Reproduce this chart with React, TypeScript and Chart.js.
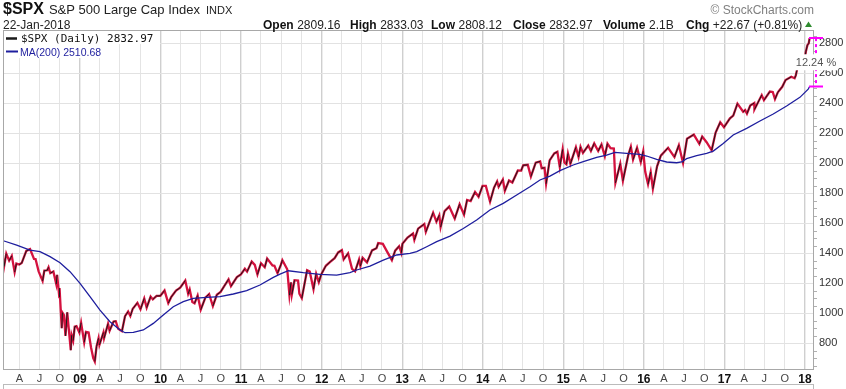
import React, { useEffect, useRef } from "react";
import { Chart, registerables } from "chart.js";
Chart.register(...registerables);

// ---------- data ----------
const priceDates = [
  "2008-01-16","2008-01-22","2008-02-01","2008-02-14","2008-02-26","2008-03-10","2008-03-18","2008-03-31","2008-04-11","2008-05-02","2008-05-19","2008-06-06","2008-06-13","2008-06-27","2008-07-15","2008-07-23","2008-08-05","2008-08-11","2008-08-19","2008-09-02","2008-09-15","2008-09-19","2008-09-29","2008-09-30","2008-10-10","2008-10-13","2008-10-20","2008-10-27","2008-11-04","2008-11-20","2008-11-24","2008-12-01","2008-12-08","2008-12-16","2008-12-29",
  "2009-01-06","2009-01-20","2009-01-28","2009-02-09","2009-02-20","2009-03-02","2009-03-09","2009-03-17","2009-03-26","2009-03-30","2009-04-17","2009-04-20","2009-05-08","2009-05-15","2009-06-02","2009-06-12","2009-06-23","2009-07-10","2009-07-24","2009-08-07","2009-08-17","2009-08-28","2009-09-18","2009-10-02","2009-10-19","2009-10-30","2009-11-17","2009-11-27","2009-12-14","2009-12-31",
  "2010-01-19","2010-02-05","2010-02-18","2010-03-12","2010-03-31","2010-04-23","2010-05-06","2010-05-13","2010-05-25","2010-06-04","2010-06-18","2010-07-02","2010-07-23","2010-08-09","2010-08-26","2010-09-13","2010-09-30","2010-10-15","2010-11-05","2010-11-16","2010-12-13","2010-12-31",
  "2011-01-18","2011-01-28","2011-02-18","2011-03-04","2011-03-16","2011-04-01","2011-04-18","2011-04-29","2011-05-23","2011-06-01","2011-06-15","2011-06-30","2011-07-07","2011-07-29","2011-08-08","2011-08-15","2011-08-19","2011-08-31","2011-09-16","2011-09-22","2011-10-03","2011-10-27","2011-11-08","2011-11-25","2011-12-07","2011-12-19","2011-12-30",
  "2012-01-20","2012-02-10","2012-02-29","2012-03-16","2012-04-02","2012-04-10","2012-04-30","2012-05-18","2012-06-01","2012-06-19","2012-06-25","2012-07-05","2012-07-25","2012-08-17","2012-09-06","2012-09-14","2012-10-05","2012-10-23","2012-11-15","2012-11-30","2012-12-18","2012-12-28",
  "2013-01-02","2013-01-25","2013-02-19","2013-02-25","2013-03-14","2013-04-11","2013-04-18","2013-05-21","2013-06-05","2013-06-18","2013-06-24","2013-07-12","2013-08-02","2013-08-27","2013-09-18","2013-10-08","2013-10-22","2013-11-07","2013-11-27","2013-12-13","2013-12-31",
  "2014-01-15","2014-02-03","2014-02-21","2014-03-07","2014-03-14","2014-04-02","2014-04-11","2014-04-30","2014-05-15","2014-06-09","2014-06-24","2014-07-03","2014-07-24","2014-08-07","2014-08-29","2014-09-18","2014-09-25","2014-10-08","2014-10-15","2014-10-31","2014-11-21","2014-12-05","2014-12-16","2014-12-29",
  "2015-01-06","2015-01-15","2015-01-22","2015-02-02","2015-02-27","2015-03-11","2015-03-20","2015-03-31","2015-04-24","2015-05-06","2015-05-21","2015-06-08","2015-06-23","2015-07-08","2015-07-20","2015-08-03","2015-08-18","2015-08-25","2015-09-16","2015-09-28","2015-10-22","2015-11-03","2015-11-13","2015-12-01","2015-12-18","2015-12-29",
  "2016-01-07","2016-01-20","2016-02-01","2016-02-11","2016-03-01","2016-03-18","2016-04-20","2016-05-19","2016-06-08","2016-06-27","2016-07-15","2016-08-15","2016-09-09","2016-09-22","2016-10-12","2016-11-04","2016-11-22","2016-12-13","2016-12-30",
  "2017-01-26","2017-02-10","2017-03-01","2017-03-27","2017-04-05","2017-04-13","2017-04-28","2017-05-16","2017-05-17","2017-06-19","2017-06-29","2017-07-26","2017-08-08","2017-08-18","2017-08-31","2017-09-20","2017-10-05","2017-10-31","2017-11-15","2017-11-20","2017-11-30","2017-12-18","2017-12-29",
  "2018-01-05","2018-01-12","2018-01-18","2018-01-22"
];
const priceValues = [
  1373,1310,1396,1349,1381,1273,1330,1323,1333,1414,1426,1361,1360,1278,1214,1283,1285,1305,1266,1277,1193,1255,1106,1166,899,1003,986,848,1005,752,852,816,909,913,870,
  935,805,874,870,770,700,677,778,832,788,870,832,929,882,944,946,895,879,979,1010,980,1029,1068,1025,1097,1036,1110,1091,1114,1115,
  1150,1066,1106,1150,1169,1217,1128,1157,1074,1065,1117,1022,1103,1127,1047,1122,1141,1176,1225,1179,1240,1258,
  1295,1276,1343,1321,1257,1332,1305,1364,1317,1315,1266,1321,1353,1292,1119,1204,1124,1219,1216,1129,1099,1285,1276,1159,1261,1206,1258,
  1315,1343,1366,1404,1419,1358,1398,1295,1278,1357,1314,1368,1338,1418,1432,1466,1461,1413,1353,1416,1446,1402,
  1462,1503,1530,1488,1563,1593,1541,1669,1609,1652,1573,1680,1710,1630,1725,1656,1754,1747,1807,1775,1848,
  1848,1742,1836,1878,1841,1890,1815,1884,1870,1951,1950,1985,1988,1910,2003,2011,1966,1968,1862,2018,2064,2075,1973,2091,
  2003,1992,2063,1995,2105,2040,2108,2068,2117,2080,2131,2080,2124,2046,2129,2099,2097,1868,1996,1882,2052,2109,2023,2102,2006,2078,
  1943,1859,1940,1829,1978,2049,2102,2040,2119,2001,2162,2190,2128,2177,2139,2085,2203,2272,2239,
  2298,2316,2396,2342,2353,2329,2384,2400,2357,2453,2419,2477,2474,2426,2472,2508,2553,2575,2565,2582,2648,2690,2674,
  2743,2786,2798,2832.97
];

const maYears = [
  2008.048,2008.214,2008.379,2008.503,2008.628,2008.752,2008.876,2009.0,2009.124,2009.248,2009.372,2009.497,2009.559,2009.662,2009.786,2009.910,
  2010.034,2010.158,2010.282,2010.406,2010.573,2010.738,2010.903,2011.069,2011.234,2011.400,2011.483,2011.586,2011.772,2011.979,
  2012.186,2012.351,2012.435,2012.600,2012.765,2012.931,2013.096,2013.180,2013.304,2013.428,2013.593,2013.758,2013.924,
  2014.089,2014.254,2014.421,2014.586,2014.710,2014.834,2014.958,2015.123,2015.248,2015.414,2015.538,2015.641,2015.786,2015.951,
  2016.035,2016.159,2016.283,2016.407,2016.469,2016.531,2016.655,2016.779,2016.861,2016.985,2017.109,2017.276,2017.441,2017.606,
  2017.772,2017.937,2018.040,2018.058
];
const maValues = [
  1482,1453,1420,1409,1376,1336,1276,1198,1109,1020,942,887,869,871,887,931,
  987,1042,1076,1098,1104,1109,1127,1149,1187,1238,1260,1282,1269,1258,
  1253,1269,1287,1313,1353,1387,1398,1409,1442,1476,1513,1564,1620,
  1687,1731,1787,1842,1887,1913,1949,1987,2009,2038,2053,2071,2064,2058,
  2047,2024,2007,2002,2007,2029,2049,2064,2080,2131,2187,2231,2280,2327,
  2380,2438,2493,2510.68
];

const xTickDates = [
  "2008-04-01","2008-07-01","2008-10-01","2009-01-01","2009-04-01","2009-07-01","2009-10-01","2010-01-01",
  "2010-04-01","2010-07-01","2010-10-01","2011-01-01","2011-04-01","2011-07-01","2011-10-01","2012-01-01",
  "2012-04-01","2012-07-01","2012-10-01","2013-01-01","2013-04-01","2013-07-01","2013-10-01","2014-01-01",
  "2014-04-01","2014-07-01","2014-10-01","2015-01-01","2015-04-01","2015-07-01","2015-10-01","2016-01-01",
  "2016-04-01","2016-07-01","2016-10-01","2017-01-01","2017-04-01","2017-07-01","2017-10-01","2018-01-01"
];
const xTickLabels = [
  "A","J","O","09","A","J","O","10","A","J","O","11","A","J","O","12","A","J","O","13",
  "A","J","O","14","A","J","O","15","A","J","O","16","A","J","O","17","A","J","O","18"
];
const yTicks = [800, 1000, 1200, 1400, 1600, 1800, 2000, 2200, 2400, 2600, 2800];

const lastClose = 2832.97;
const lastMA = 2510.68;
const pctLabel = "12.24 %";

const headerStats = [
  { label: "Open", value: "2809.16" },
  { label: "High", value: "2833.03" },
  { label: "Low", value: "2808.12" },
  { label: "Close", value: "2832.97" },
  { label: "Volume", value: "2.1B" },
  { label: "Chg", value: "+22.67 (+0.81%)" },
];
const headerStatX = [263, 350, 431, 513, 603, 686];

// ---------- helpers ----------
const FONT = '"Liberation Sans", Arial, sans-serif';
const RED = "#d4123f";
const BLACK = "#1a1a1a";
const BLUE = "#1e1e9e";

function toYear(d: string): number {
  const [y, m, dd] = d.split("-").map(Number);
  const s = Date.UTC(y, 0, 1);
  const e = Date.UTC(y + 1, 0, 1);
  return y + (Date.UTC(y, m - 1, dd) - s) / (e - s);
}
const isYearTick = (i: number) => (xTickLabels[i] || "").length === 2;

const decorPlugin = {
  id: "decor",
  afterDraw(chart: any) {
    const { ctx, chartArea: a, scales } = chart;
    const ys = scales.y;
    ctx.save();

    // plot border
    ctx.strokeStyle = "#a8a8a8";
    ctx.lineWidth = 1;
    ctx.strokeRect(a.left + 0.5, a.top + 0.5, a.right - a.left - 1, a.bottom - a.top);

    // minor ticks on right axis
    ctx.strokeStyle = "#b0b0b0";
    for (let v = 650; v <= 2850; v += 50) {
      if (v % 200 === 0) continue;
      const y = Math.round(ys.getPixelForValue(v)) + 0.5;
      ctx.beginPath();
      ctx.moveTo(a.right, y);
      ctx.lineTo(a.right + 3, y);
      ctx.stroke();
    }

    // lower panel edge
    ctx.strokeStyle = "#bbbbbb";
    ctx.beginPath();
    ctx.moveTo(a.left, 384.5);
    ctx.lineTo(a.right, 384.5);
    ctx.moveTo(a.left + 0.5, 384.5);
    ctx.lineTo(a.left + 0.5, 389);
    ctx.moveTo(a.right - 0.5, 384.5);
    ctx.lineTo(a.right - 0.5, 389);
    ctx.stroke();

    // legend
    ctx.fillStyle = "#ffffff";
    ctx.fillRect(a.left + 1, a.top + 1, 156, 13);
    ctx.fillRect(a.left + 1, a.top + 14, 100, 14);
    ctx.strokeStyle = BLACK;
    ctx.lineWidth = 2.5;
    ctx.beginPath();
    ctx.moveTo(6, 38.5);
    ctx.lineTo(17, 38.5);
    ctx.stroke();
    ctx.fillStyle = "#111";
    ctx.font = '11px "DejaVu Sans Mono", monospace';
    ctx.textBaseline = "alphabetic";
    ctx.textAlign = "left";
    ctx.fillText("$SPX (Daily) 2832.97", 21, 42);
    ctx.strokeStyle = BLUE;
    ctx.lineWidth = 2;
    ctx.beginPath();
    ctx.moveTo(6, 51.5);
    ctx.lineTo(18, 51.5);
    ctx.stroke();
    ctx.fillStyle = BLUE;
    ctx.font = "10.5px " + FONT;
    ctx.fillText("MA(200) 2510.68", 20, 55.5);

    // percentage bracket
    const bx = a.right + 2;
    const yTop = ys.getPixelForValue(lastClose);
    const yBot = ys.getPixelForValue(lastMA);
    ctx.strokeStyle = "#ff00ff";
    ctx.lineWidth = 2;
    ctx.setLineDash([3, 3]);
    ctx.beginPath();
    ctx.moveTo(bx, yTop);
    ctx.lineTo(bx, yBot);
    ctx.stroke();
    ctx.setLineDash([]);
    ctx.beginPath();
    ctx.moveTo(bx - 7, yTop);
    ctx.lineTo(bx + 7, yTop);
    ctx.moveTo(bx - 7, yBot);
    ctx.lineTo(bx + 7, yBot);
    ctx.stroke();
    const midY = (yTop + yBot) / 2;
    ctx.font = "11px " + FONT;
    const tw = ctx.measureText(pctLabel).width;
    ctx.fillStyle = "#ffffff";
    ctx.fillRect(bx - tw / 2 - 2, midY - 8, tw + 4, 16);
    ctx.fillStyle = "#555";
    ctx.textAlign = "center";
    ctx.textBaseline = "middle";
    ctx.fillText(pctLabel, bx, midY + 0.5);

    // header
    ctx.textAlign = "left";
    ctx.textBaseline = "alphabetic";
    ctx.fillStyle = "#111";
    ctx.font = "bold 16px " + FONT;
    ctx.fillText("$SPX", 3, 14);
    let x = 3 + ctx.measureText("$SPX").width + 5;
    ctx.font = "13px " + FONT;
    ctx.fillStyle = "#222";
    ctx.fillText("S&P 500 Large Cap Index", x, 14);
    x += ctx.measureText("S&P 500 Large Cap Index").width + 6;
    ctx.font = "11px " + FONT;
    ctx.fillText("INDX", x, 14);
    ctx.font = "12px " + FONT;
    ctx.fillText("22-Jan-2018", 3, 28.5);

    headerStats.forEach((s, i) => {
      let hx = headerStatX[i];
      ctx.font = "bold 12px " + FONT;
      ctx.fillStyle = "#111";
      ctx.fillText(s.label, hx, 28.5);
      hx += ctx.measureText(s.label).width + 3.5;
      ctx.font = "12px " + FONT;
      ctx.fillStyle = "#222";
      ctx.fillText(s.value, hx, 28.5);
    });
    // up triangle
    ctx.fillStyle = "#2e8b2e";
    ctx.beginPath();
    ctx.moveTo(805, 27);
    ctx.lineTo(812, 27);
    ctx.lineTo(808.5, 21.5);
    ctx.closePath();
    ctx.fill();

    ctx.font = "12px " + FONT;
    ctx.fillStyle = "#808080";
    ctx.textAlign = "right";
    ctx.fillText("\u00A9 StockCharts.com", 814, 13.5);

    ctx.restore();
  },
};

export default function App() {
  const ref = useRef<HTMLCanvasElement | null>(null);
  useEffect(() => {
    document.body.style.margin = "0";
    const canvas = ref.current;
    if (!canvas) return;
    const xTickVals = xTickDates.map(toYear);
    const pricePts = priceDates.map((d, i) => ({ x: toYear(d), y: priceValues[i] }));
    const chart = new Chart(canvas, {
      type: "line",
      data: {
        datasets: [
          {
            label: "MA(200)",
            data: maYears.map((t, i) => ({ x: t, y: maValues[i] })),
            borderColor: BLUE,
            borderWidth: 1.3,
            pointRadius: 0,
            tension: 0,
            order: 0,
          },
          {
            label: "$SPX up days",
            data: pricePts,
            borderColor: BLACK,
            borderWidth: 1,
            pointRadius: 0,
            tension: 0,
            order: 1,
            segment: {
              borderColor: (c: any) => (c.p1.parsed.y > c.p0.parsed.y ? BLACK : "rgba(0,0,0,0)"),
            },
          },
          {
            label: "$SPX (Daily)",
            data: pricePts,
            borderColor: RED,
            borderWidth: 2.3,
            pointRadius: 0,
            tension: 0,
            order: 2,
          },
        ],
      },
      options: {
        responsive: false,
        animation: false,
        devicePixelRatio: 1,
        layout: { padding: { left: 3, top: 30, right: 0, bottom: 0 } },
        plugins: { legend: { display: false }, tooltip: { enabled: false } },
        scales: {
          x: {
            type: "linear",
            min: 2008.044,
            max: 2018.112,
            afterBuildTicks: (s: any) => {
              s.ticks = xTickVals.map((v) => ({ value: v }));
            },
            afterFit: (s: any) => {
              s.height = 20;
            },
            border: { display: false },
            grid: {
              drawTicks: false,
              color: (c: any) => (isYearTick(c.index) ? "#cfcfcf" : "#e4e4e4"),
              lineWidth: (c: any) => (isYearTick(c.index) ? 1.4 : 1),
            },
            ticks: {
              autoSkip: false,
              maxRotation: 0,
              padding: 3,
              callback: (_v: any, i: number) => xTickLabels[i],
              color: (c: any) => (isYearTick(c.index) ? "#111" : "#444"),
              font: (c: any) =>
                isYearTick(c.index)
                  ? { family: FONT, size: 12, weight: "bold" }
                  : { family: FONT, size: 11 },
            },
          },
          y: {
            type: "linear",
            position: "right",
            min: 627,
            max: 2887,
            afterBuildTicks: (s: any) => {
              s.ticks = yTicks.map((v) => ({ value: v }));
            },
            afterFit: (s: any) => {
              s.width = 32;
            },
            border: { display: false },
            grid: { drawTicks: false, color: "#e2e2e2" },
            ticks: {
              padding: 5,
              color: "#333",
              font: { family: FONT, size: 11 },
              callback: (v: any) => String(v),
            },
          },
        },
      },
      plugins: [decorPlugin],
    });
    return () => chart.destroy();
  }, []);
  return (
    <div style={{ width: 846, height: 389 }}>
      <canvas ref={ref} width={846} height={389} style={{ display: "block" }} />
    </div>
  );
}
